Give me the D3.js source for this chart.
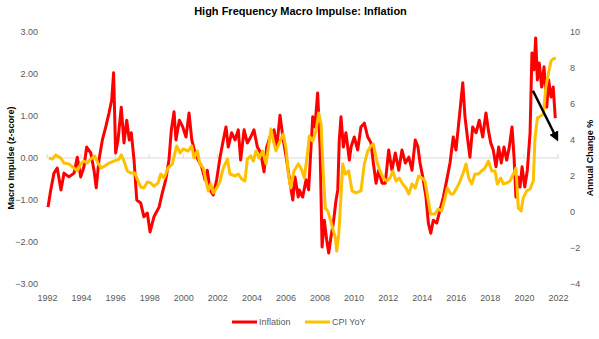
<!DOCTYPE html>
<html>
<head>
<meta charset="utf-8">
<script src="https://cdn.jsdelivr.net/npm/d3@7"></script>
<style>
  body { margin: 0; background: #fff; }
  svg { font-family: "Liberation Sans", Arial, sans-serif; }
</style>
</head>
<body>
<div id="chart"></div>
<script>
// Macro impulse (z-score), [decimal year, value]
let inflation = [
  [1992.06,-1.17],[1992.22,-0.76],[1992.41,-0.36],[1992.60,-0.24],[1992.82,-0.76],[1993.00,-0.36],
  [1993.29,-0.45],[1993.59,-0.36],[1993.78,0.02],[1993.98,-0.45],[1994.17,-0.21],[1994.33,0.26],
  [1994.57,0.12],[1994.76,-0.29],[1994.89,-0.71],[1995.05,-0.05],[1995.25,0.43],[1995.45,0.74],
  [1995.64,1.07],[1995.80,1.38],[1995.91,2.03],[1996.03,0.12],[1996.17,0.43],[1996.36,1.21],
  [1996.52,0.36],[1996.68,0.90],[1996.83,0.43],[1996.95,0.60],[1997.11,-0.05],[1997.27,-1.00],
  [1997.50,-1.07],[1997.69,-1.40],[1997.89,-1.31],[1998.05,-1.76],[1998.28,-1.40],[1998.58,-1.17],
  [1998.77,-0.83],[1998.97,-0.52],[1999.16,-0.05],[1999.30,0.67],[1999.46,1.10],[1999.57,0.43],
  [1999.77,0.90],[1999.97,0.74],[2000.16,0.50],[2000.34,1.07],[2000.50,0.43],[2000.69,0.12],
  [2000.88,-0.05],[2001.08,-0.21],[2001.28,-0.52],[2001.41,-0.29],[2001.57,-0.76],[2001.76,-0.88],
  [2001.96,-0.52],[2002.16,0.02],[2002.35,0.43],[2002.51,0.74],[2002.64,0.26],[2002.84,0.60],
  [2003.04,0.43],[2003.23,0.67],[2003.37,-0.05],[2003.57,0.67],[2003.76,0.36],[2003.96,0.50],
  [2004.15,0.67],[2004.35,0.26],[2004.55,0.12],[2004.74,-0.33],[2004.90,0.26],[2005.09,0.50],
  [2005.33,0.67],[2005.49,0.26],[2005.68,1.02],[2005.87,0.43],[2006.07,-0.05],[2006.27,-0.60],
  [2006.43,-1.00],[2006.56,-0.45],[2006.75,-0.93],[2006.81,-0.76],[2007.01,-0.93],[2007.21,-0.52],
  [2007.36,-0.76],[2007.50,0.26],[2007.60,0.98],[2007.73,0.74],[2007.89,1.55],[2008.03,0.26],
  [2008.15,-2.12],[2008.28,-1.48],[2008.42,-1.95],[2008.54,-2.26],[2008.67,-1.88],[2008.81,-1.55],
  [2008.97,-1.00],[2009.07,-0.76],[2009.16,0.43],[2009.26,0.98],[2009.40,0.26],[2009.55,0.60],
  [2009.75,-0.05],[2009.85,0.26],[2010.04,0.50],[2010.24,0.19],[2010.43,0.74],[2010.63,0.83],
  [2010.83,0.50],[2011.02,0.36],[2011.16,-0.12],[2011.32,-0.60],[2011.47,-0.29],[2011.67,-0.60],
  [2011.86,-0.60],[2012.06,0.19],[2012.25,-0.29],[2012.45,0.12],[2012.65,-0.29],[2012.84,0.19],
  [2013.04,-0.12],[2013.24,0.02],[2013.43,-0.29],[2013.62,0.43],[2013.78,0.26],[2013.90,-0.12],
  [2014.06,-0.45],[2014.25,-0.93],[2014.39,-1.55],[2014.53,-1.79],[2014.68,-1.48],[2014.88,-1.55],
  [2015.07,-1.24],[2015.27,-0.93],[2015.47,-0.52],[2015.66,-0.12],[2015.85,0.50],[2016.01,0.19],
  [2016.15,0.74],[2016.29,1.31],[2016.41,1.79],[2016.54,0.98],[2016.68,0.50],[2016.83,0.02],
  [2016.99,0.74],[2017.19,0.60],[2017.38,0.90],[2017.58,0.50],[2017.77,1.07],[2017.91,0.67],
  [2018.05,0.36],[2018.20,0.19],[2018.36,-0.21],[2018.52,0.26],[2018.67,-0.12],[2018.83,0.26],
  [2018.99,-0.05],[2019.14,0.26],[2019.30,0.74],[2019.42,0.02],[2019.53,-0.93],[2019.65,-0.45],
  [2019.77,-0.69],[2019.89,-0.21],[2020.05,-0.69],[2020.20,-0.29],[2020.36,0.60],[2020.47,2.50],
  [2020.59,2.10],[2020.69,2.86],[2020.79,1.86],[2020.90,2.26],[2021.04,1.69],[2021.18,2.17],
  [2021.34,1.21],[2021.45,1.86],[2021.59,1.45],[2021.72,1.69],[2021.84,0.95]
];

// CPI YoY (%), [decimal year, value]
let cpiYoY = [
  [1992.12,3.00],[1992.31,2.94],[1992.51,3.17],[1992.80,3.00],[1993.00,2.72],[1993.29,2.67],
  [1993.59,2.44],[1993.78,2.28],[1993.98,2.67],[1994.17,2.83],[1994.37,2.72],[1994.57,2.94],
  [1994.80,3.11],[1994.99,2.72],[1995.19,2.44],[1995.39,2.56],[1995.64,2.72],[1995.93,2.83],
  [1996.23,2.94],[1996.36,3.17],[1996.52,2.83],[1996.71,2.28],[1996.91,2.17],[1997.15,2.17],
  [1997.30,1.83],[1997.50,1.39],[1997.69,1.33],[1997.89,1.67],[1998.09,1.61],[1998.28,1.44],
  [1998.52,1.61],[1998.68,2.11],[1998.87,1.89],[1999.10,2.44],[1999.36,2.67],[1999.61,3.67],
  [1999.81,3.28],[2000.00,3.50],[2000.30,3.39],[2000.50,3.67],[2000.63,3.00],[2000.82,3.39],
  [2000.98,2.67],[2001.18,2.44],[2001.33,1.72],[2001.47,1.17],[2001.61,1.56],[2001.76,1.06],
  [2001.96,1.33],[2002.16,1.72],[2002.35,2.44],[2002.59,2.94],[2002.74,2.11],[2003.04,2.00],
  [2003.23,2.11],[2003.43,1.83],[2003.62,1.72],[2003.76,2.94],[2003.96,3.11],[2004.11,2.83],
  [2004.27,3.39],[2004.46,3.00],[2004.66,3.39],[2004.86,2.67],[2005.05,3.94],[2005.15,4.61],
  [2005.29,3.94],[2005.44,3.39],[2005.68,3.94],[2005.87,4.33],[2006.03,3.56],[2006.17,2.11],
  [2006.31,1.33],[2006.50,2.28],[2006.75,2.67],[2006.91,2.44],[2007.11,1.89],[2007.31,3.39],
  [2007.40,4.22],[2007.60,3.94],[2007.79,4.50],[2007.95,5.50],[2008.09,4.89],[2008.22,2.11],
  [2008.34,0.22],[2008.48,0.06],[2008.61,-0.33],[2008.77,-0.89],[2008.93,-1.44],[2009.01,-2.17],
  [2009.13,-1.22],[2009.22,0.22],[2009.36,2.67],[2009.51,2.11],[2009.71,2.28],[2009.91,1.17],
  [2010.14,1.06],[2010.43,1.17],[2010.63,2.67],[2010.83,3.39],[2011.02,3.67],[2011.16,3.78],
  [2011.36,2.83],[2011.55,2.28],[2011.74,1.89],[2011.94,1.72],[2012.14,1.89],[2012.30,2.28],
  [2012.49,1.72],[2012.68,1.89],[2012.88,1.56],[2013.08,1.33],[2013.24,1.00],[2013.43,1.56],
  [2013.62,1.33],[2013.82,2.00],[2014.02,1.89],[2014.19,1.72],[2014.39,0.61],[2014.53,-0.11],
  [2014.78,-0.11],[2014.97,0.17],[2015.17,0.06],[2015.37,0.78],[2015.50,1.33],[2015.70,1.00],
  [2015.85,1.00],[2016.05,1.33],[2016.25,1.72],[2016.41,2.11],[2016.60,2.67],[2016.76,1.89],
  [2016.93,1.56],[2017.13,2.11],[2017.32,2.11],[2017.52,2.28],[2017.71,2.44],[2017.91,2.83],
  [2018.11,2.28],[2018.30,2.28],[2018.44,1.56],[2018.64,1.89],[2018.79,1.56],[2018.99,1.61],
  [2019.18,1.72],[2019.38,2.11],[2019.53,2.44],[2019.67,0.22],[2019.83,0.06],[2019.96,0.78],
  [2020.16,1.17],[2020.36,1.28],[2020.55,1.72],[2020.65,4.11],[2020.79,5.22],[2020.98,5.33],
  [2021.14,5.44],[2021.28,6.89],[2021.43,7.67],[2021.59,8.39],[2021.72,8.50],[2021.87,8.56]
];

let yearTicks = d3.range(1992, 2023, 2);
let leftTicks = [-3, -2, -1, 0, 1, 2, 3];
let rightTicks = [-4, -2, 0, 2, 4, 6, 8, 10];
let seriesNames = ["Inflation", "CPI YoY"];
let seriesColors = ["#ff0000", "#ffc000"];
// annotation arrow, [year, z-score]
let arrowFrom = [2020.53, 1.6],
    arrowTo = [2021.88, 0.5];

{
  let sizex = 599,
      sizey = 339;
  var margin = {top: 32, right: 41, bottom: 55, left: 47},
      width = sizex - margin.left - margin.right,
      height = sizey - margin.top - margin.bottom;

  var root = d3.select("#chart")
    .append("svg")
      .attr("width", sizex)
      .attr("height", sizey);

  root.append("text")
      .attr("x", sizex / 2 + 1)
      .attr("y", 15)
      .attr("text-anchor", "middle")
      .style("font-size", "11px")
      .style("font-weight", "bold")
      .text("High Frequency Macro Impulse: Inflation");

  var svg = root.append("g")
      .attr("transform", "translate(" + margin.left + "," + margin.top + ")");

  var x = d3.scaleLinear().domain([1992, 2022]).range([0, width]);
  var yl = d3.scaleLinear().domain([-3, 3]).range([height, 0]);
  var yr = d3.scaleLinear().domain([-4, 10]).range([height, 0]);

  // zero line with small ticks
  svg.append("line")
      .attr("x1", x(1992)).attr("x2", x(2022) + 1)
      .attr("y1", yl(0)).attr("y2", yl(0))
      .attr("stroke", "#d9d9d9");
  yearTicks.forEach(function(t) {
    svg.append("line")
      .attr("x1", x(t)).attr("x2", x(t))
      .attr("y1", yl(0)).attr("y2", yl(0) - 4)
      .attr("stroke", "#d9d9d9");
  });

  // axes
  var tickStyle = function(g) {
    g.select(".domain").remove();
    g.selectAll("line").remove();
    g.selectAll("text").style("font-size", "9px").attr("fill", "#595959");
  };
  svg.append("g")
      .attr("transform", "translate(0," + (height + 8) + ")")
      .call(d3.axisBottom(x).tickValues(yearTicks).tickFormat(d3.format("d")).tickSize(0))
      .call(tickStyle);
  svg.append("g")
      .attr("transform", "translate(-6,0)")
      .call(d3.axisLeft(yl).tickValues(leftTicks).tickFormat(d3.format(".2f")).tickSize(0))
      .call(tickStyle);
  svg.append("g")
      .attr("transform", "translate(" + (width + 9) + ",0)")
      .call(d3.axisRight(yr).tickValues(rightTicks).tickFormat(d3.format("d")).tickSize(0))
      .call(tickStyle);

  // axis titles
  root.append("text")
      .attr("transform", "translate(14," + (margin.top + height / 2) + ")rotate(-90)")
      .attr("text-anchor", "middle")
      .style("font-size", "9px")
      .style("font-weight", "bold")
      .text("Macro Impulse (z-score)");
  root.append("text")
      .attr("transform", "translate(593," + (margin.top + height / 2) + ")rotate(-90)")
      .attr("text-anchor", "middle")
      .style("font-size", "9px")
      .style("font-weight", "bold")
      .text("Annual Change %");

  // series
  var lineL = d3.line().x(d => x(d[0])).y(d => yl(d[1]));
  var lineR = d3.line().x(d => x(d[0])).y(d => yr(d[1]));
  svg.append("path")
      .datum(inflation)
      .attr("d", lineL)
      .attr("fill", "none")
      .attr("stroke", seriesColors[0])
      .attr("stroke-width", 3)
      .attr("stroke-linejoin", "round");
  svg.append("path")
      .datum(cpiYoY)
      .attr("d", lineR)
      .attr("fill", "none")
      .attr("stroke", seriesColors[1])
      .attr("stroke-width", 3)
      .attr("stroke-linejoin", "round");

  // arrow
  root.append("defs").append("marker")
      .attr("id", "head")
      .attr("viewBox", "0 0 10 10")
      .attr("refX", 5).attr("refY", 5)
      .attr("markerWidth", 4).attr("markerHeight", 4)
      .attr("orient", "auto")
    .append("path")
      .attr("d", "M0,0L10,5L0,10z")
      .attr("fill", "#000");
  svg.append("line")
      .attr("x1", x(arrowFrom[0])).attr("y1", yl(arrowFrom[1]))
      .attr("x2", x(arrowTo[0])).attr("y2", yl(arrowTo[1]))
      .attr("stroke", "#000")
      .attr("stroke-width", 2.5)
      .attr("marker-end", "url(#head)");

  // legend
  var legX = [232, 305];
  seriesNames.forEach(function(n, i) {
    root.append("line")
      .attr("x1", legX[i]).attr("x2", legX[i] + 25)
      .attr("y1", 322).attr("y2", 322)
      .attr("stroke", seriesColors[i])
      .attr("stroke-width", 3);
    root.append("text")
      .attr("x", legX[i] + 27)
      .attr("y", 325)
      .style("font-size", "9px")
      .attr("fill", "#595959")
      .text(n);
  });
}
</script>
</body>
</html>
